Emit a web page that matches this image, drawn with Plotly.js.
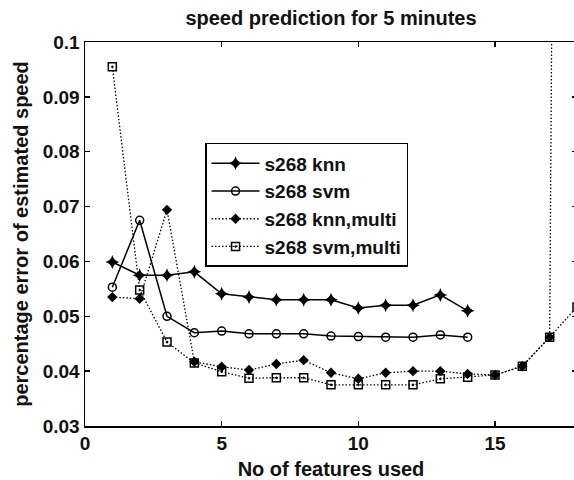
<!DOCTYPE html>
<html>
<head>
<meta charset="utf-8">
<script src="https://cdn.plot.ly/plotly-3.0.1.min.js"></script>
<style>
  html, body { margin: 0; padding: 0; background: #fff; overflow: hidden; width: 574px; height: 480px; }
  #chart { width: 600px; height: 480px; }
</style>
</head>
<body>
<div id="chart"></div>
<script>
// Number of features used
const featuresShort = [1, 2, 3, 4, 5, 6, 7, 8, 9, 10, 11, 12, 13, 14];
const featuresLong  = [1, 2, 3, 4, 5, 6, 7, 8, 9, 10, 11, 12, 13, 14, 15, 16, 17, 18];

// Percentage error of estimated speed, 5-minute prediction
const knnErr = [0.0599, 0.0575, 0.0575, 0.0581, 0.0541, 0.0535, 0.0530, 0.0530, 0.0530,
                0.0515, 0.0520, 0.0520, 0.0539, 0.0510];
const svmErr = [0.0553, 0.0675, 0.0500, 0.0470, 0.0473, 0.0468, 0.0468, 0.0468, 0.0464,
                0.0463, 0.0462, 0.0462, 0.0466, 0.0462];
const knnMultiErr = [0.0535, 0.0532, 0.0694, 0.0417, 0.0408, 0.0402, 0.0413, 0.0420, 0.0397,
                     0.0386, 0.0397, 0.0400, 0.0400, 0.0395, 0.0393, 0.0409, 0.0462, 0.80];
const svmMultiErr = [0.0955, 0.0548, 0.0453, 0.0415, 0.0399, 0.0387, 0.0388, 0.0388, 0.0375,
                     0.0375, 0.0375, 0.0375, 0.0386, 0.0389, 0.0393, 0.0409, 0.0462, 0.0517];

const seriesNames = ['s268 knn', 's268 svm', 's268 knn,multi', 's268 svm,multi'];

const FONT = '"Liberation Sans", Arial, sans-serif';
const DOTS = '1.5px,2px';

const traces = [
  {
    x: featuresShort, y: knnErr, name: seriesNames[0],
    mode: 'lines+markers',
    line: { color: '#000', width: 1.5, dash: 'solid' },
    marker: { symbol: 'star-diamond', size: 10, color: '#000' }
  },
  {
    x: featuresShort, y: svmErr, name: seriesNames[1],
    mode: 'lines+markers',
    line: { color: '#000', width: 1.5, dash: 'solid' },
    marker: { symbol: 'circle-open', size: 8, color: '#000', line: { width: 1.5, color: '#000' } }
  },
  {
    x: featuresLong, y: knnMultiErr, name: seriesNames[2],
    mode: 'lines+markers',
    line: { color: '#000', width: 1.3, dash: DOTS },
    marker: { symbol: 'diamond', size: 8, color: '#000' }
  },
  {
    x: featuresLong, y: svmMultiErr, name: seriesNames[3],
    mode: 'lines+markers',
    line: { color: '#000', width: 1.3, dash: DOTS },
    marker: { symbol: 'square-open-dot', size: 8, color: '#000', line: { width: 1.5, color: '#000' } }
  }
];

const axisCommon = {
  showline: true, linecolor: '#000', linewidth: 1.5, mirror: 'ticks',
  ticks: 'inside', ticklen: 5, tickwidth: 1.5, tickcolor: '#000',
  showgrid: false, zeroline: false,
  tickfont: { family: FONT, size: 19, color: '#111', weight: 'bold' }
};

const layout = {
  width: 600, height: 480,
  margin: { l: 85, r: 23, t: 42, b: 54 },
  paper_bgcolor: '#fff', plot_bgcolor: '#fff',
  font: { family: FONT, color: '#000' },
  title: {
    text: 'speed prediction for 5 minutes',
    font: { family: FONT, size: 20, color: '#111', weight: 'bold' },
    x: 0.5, xref: 'paper', y: 0.962, yref: 'container', yanchor: 'middle'
  },
  xaxis: Object.assign({}, axisCommon, {
    range: [0, 18], tick0: 0, dtick: 5,
    title: { text: 'No of features used', font: { family: FONT, size: 20, color: '#111', weight: 'bold' }, standoff: 8 }
  }),
  yaxis: Object.assign({}, axisCommon, {
    range: [0.03, 0.1], tick0: 0.03, dtick: 0.01,
    title: { text: 'percentage error of estimated speed', font: { family: FONT, size: 20, color: '#111', weight: 'bold' }, standoff: 8 }
  }),
  showlegend: true,
  legend: {
    x: 0.244, y: 0.737, xanchor: 'left', yanchor: 'top',
    bgcolor: '#fff', bordercolor: '#000', borderwidth: 1.5,
    font: { family: FONT, size: 19, color: '#111', weight: 'bold' },
    itemwidth: 48, traceorder: 'normal'
  }
};

Plotly.newPlot('chart', traces, layout, { displayModeBar: false, staticPlot: true });
</script>
</body>
</html>
